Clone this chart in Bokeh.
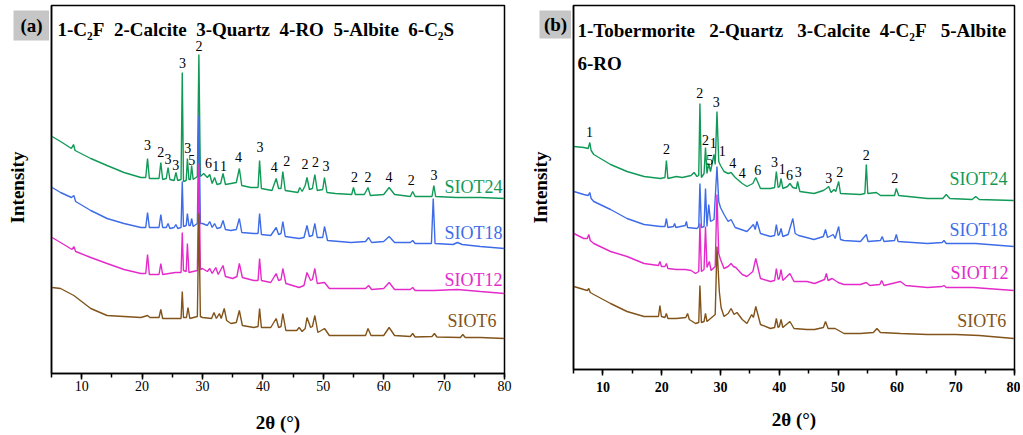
import math
from bokeh.plotting import figure
from bokeh.layouts import row
from bokeh.models import Range1d, SingleIntervalTicker, FixedTicker, Label, ColumnDataSource
from bokeh.core.properties import value
from bokeh.embed import file_html
from bokeh.resources import INLINE

# ---------------- data (2-theta, intensity a.u.) ----------------
SERIES_NAMES = ["SIOT24", "SIOT18", "SIOT12", "SIOT6"]
SERIES_COLORS = ["#119a57", "#3e6ce9", "#e42bca", "#82531a"]

A_SIOT24 = [(5.1,237),(6.5,232),(8.3,225),(8.65,229),(8.9,223),(11.5,215),(14.2,208),(17.0,201),(19.8,196),(20.6,196),(20.9,215),(21.2,195),(22.8,195),(23.1,211),(23.4,194),(24.0,195),(24.3,206),(24.6,194),(25.3,193),(25.6,201),(25.9,193),(26.45,194),(26.65,301),(26.85,192),(27.3,193),(27.5,215),(27.75,194),(28.0,194),(28.2,208),(28.45,194),(29.15,197),(29.4,319),(29.65,197),(30.2,200),(30.8,196),(31.2,199),(31.6,190),(32.0,196),(32.4,189),(33.0,190),(33.4,200),(33.8,189),(34.7,190),(35.6,191),(36.1,205),(36.5,188),(38.0,186),(39.2,186),(39.45,213),(39.75,185),(41.5,183),(42.2,195),(42.6,185),(43.0,185),(43.3,202),(43.7,183),(45.8,181),(46.1,186),(46.5,182),(47.0,188),(47.3,196),(47.7,184),(48.2,185),(48.6,199),(49.0,183),(49.9,184),(50.2,196),(50.6,181),(52.0,180),(54.7,179),(55.0,186),(55.3,179),(56.8,179),(57.4,186),(57.8,178),(60.0,179),(60.9,186),(61.8,179),(64.4,177),(64.8,182),(65.2,177),(68.0,177),(68.3,188),(68.6,177),(72.0,176),(76.0,176),(80.0,175)]
A_SIOT18 = [(5.1,186),(6.5,181),(8.3,176),(8.7,178),(9.0,172),(11.5,163),(14.2,155),(17.0,150),(19.8,146),(20.6,146),(20.9,161),(21.2,146),(22.8,146),(23.1,159),(23.4,146),(24.0,146),(24.3,150),(24.6,145),(25.3,146),(25.6,149),(25.9,145),(26.45,146),(26.65,192),(26.85,147),(27.3,148),(27.5,160),(27.75,148),(28.0,148),(28.2,155),(28.45,147),(29.15,150),(29.4,258),(29.65,150),(30.0,150),(30.8,148),(31.2,152),(31.6,146),(32.0,150),(32.4,145),(33.0,146),(33.4,153),(33.8,144),(34.7,143),(35.6,144),(36.1,155),(36.5,141),(38.5,140),(39.2,140),(39.45,160),(39.75,139),(41.3,138),(42.2,146),(42.6,139),(43.0,140),(43.3,152),(43.7,137),(46.0,135),(46.8,136),(47.3,148),(47.7,137),(48.2,138),(48.6,150),(49.0,136),(49.9,136),(50.2,147),(50.7,133),(54.6,131),(57.0,132),(57.5,136),(58.0,131),(60.0,132),(60.9,137),(61.8,131),(64.4,131),(64.8,133),(65.2,130),(67.9,130),(68.2,175),(68.5,130),(71.5,129),(72.2,131),(73.0,129),(76.0,127),(80.0,125)]
A_SIOT12 = [(5.1,136),(6.5,131),(8.4,124),(8.7,127),(9.0,122),(11.5,116),(14.2,110),(17.0,104),(19.8,100),(20.6,100),(20.9,119),(21.2,99),(22.8,99),(23.1,110),(23.4,99),(25.5,101),(26.45,101),(26.65,141),(26.85,103),(27.3,102),(27.5,130),(27.75,101),(29.15,103),(29.4,210),(29.65,104),(30.0,105),(30.8,102),(31.2,105),(31.6,100),(32.2,106),(32.6,99),(33.4,108),(33.8,97),(35.0,95),(35.7,97),(36.1,110),(36.6,96),(38.5,93),(39.2,93),(39.45,115),(39.75,93),(41.3,91),(42.2,100),(42.6,93),(43.0,94),(43.3,105),(43.8,90),(46.0,86),(46.8,88),(47.3,101),(47.9,93),(48.2,94),(48.6,105),(49.0,90),(50.2,91),(51.0,85),(54.6,85),(57.0,85),(57.5,88),(58.0,84),(60.0,85),(60.9,91),(61.8,84),(64.4,84),(64.8,86),(65.2,83),(68.3,83),(72.2,84),(76.0,82),(80.0,80)]
A_SIOT6 = [(5.1,86),(6.5,85),(8.7,78),(11.5,65),(14.2,58),(17.0,57),(19.8,56),(20.9,58),(21.3,56),(22.8,56),(23.1,64),(23.4,55),(25.5,55),(26.45,55),(26.65,82),(26.85,56),(27.35,56),(27.6,66),(27.9,55),(29.15,57),(29.4,160),(29.65,57),(30.0,56),(31.5,55),(31.9,61),(32.3,55),(32.8,60),(33.1,55),(33.6,65),(34.0,53),(34.7,50),(35.6,51),(36.1,63),(36.6,48),(38.5,46),(39.2,47),(39.45,65),(39.75,46),(41.3,46),(42.2,55),(42.6,46),(43.0,47),(43.3,60),(43.8,43),(45.6,43),(46.0,46),(46.5,42),(47.0,45),(47.3,56),(47.9,46),(48.2,47),(48.6,58),(49.1,41),(50.2,45),(51.0,38),(54.6,38),(57.0,38),(57.4,45),(57.9,38),(60.0,38),(60.9,46),(61.8,38),(64.4,37),(64.8,40),(65.2,36.5),(68.0,37),(68.4,40),(68.8,36.5),(72.7,36),(73.1,39),(73.5,36),(76.0,36),(80.0,35)]

B_SIOT24 = [(5.06,223),(6.75,222),(7.5,221),(7.77,227),(8.0,219),(8.45,215),(11.3,205),(14.1,198),(17.0,193),(19.8,191),(20.55,192),(20.8,209),(21.05,191),(22.5,193),(23.5,192),(25.0,194),(25.5,197),(26.0,193),(26.3,194),(26.5,266),(26.75,192),(27.2,196),(27.45,222),(27.7,196),(28.0,206),(28.3,198),(28.9,215),(29.1,205),(29.4,258),(29.7,208),(30.0,204),(30.6,198),(31.3,196),(31.8,197),(32.5,192),(33.7,186),(34.5,183),(35.5,186),(36.0,192),(36.8,181),(38.5,181),(39.2,182),(39.5,198),(39.8,182),(40.05,183),(40.3,191),(40.6,181),(41.4,183),(41.8,186),(42.3,182),(42.9,181),(43.1,188),(43.5,178),(45.9,176),(47.5,179),(48.0,181),(48.4,183),(48.8,177),(49.3,180),(49.6,178),(50.1,188),(50.4,176),(53.8,175),(54.55,176),(54.8,205),(55.05,176),(56.5,177),(57.2,174),(59.6,174),(59.9,181),(60.3,174),(65.2,171),(67.8,171),(68.4,175),(69.0,171),(72.8,170),(73.4,173),(74.0,170),(79.9,169)]
B_SIOT18 = [(5.06,178),(6.75,175),(7.5,174),(7.77,177),(8.0,171),(8.45,168),(11.3,160),(14.1,151),(17.0,145),(19.8,143),(20.55,143),(20.8,151),(21.05,142),(22.0,143),(22.2,146),(22.4,142),(24.0,144),(24.2,148),(24.4,142),(26.0,141),(26.3,143),(26.5,186),(26.75,142),(27.2,143),(27.45,181),(27.7,143),(28.0,165),(28.3,148),(28.9,150),(29.4,203),(29.7,168),(30.0,162),(30.6,155),(31.3,148),(31.8,150),(32.5,142),(34.5,138),(35.6,145),(35.9,140),(36.2,148),(36.8,136),(38.5,133),(39.2,134),(39.5,145),(39.8,134),(40.0,135),(40.3,141),(40.6,133),(41.5,135),(42.3,151),(42.7,136),(43.3,134),(45.9,130),(47.5,133),(47.86,140),(48.2,132),(49.17,135),(49.5,131),(50.1,143),(50.4,130),(51.0,129),(53.8,128),(54.8,135),(55.1,128),(57.2,129),(57.5,133),(57.8,128),(59.6,129),(59.9,135),(60.2,128),(65.2,126),(67.7,127),(68.0,129),(68.4,126),(73.4,126),(79.9,123)]
B_SIOT12 = [(5.06,136),(6.75,131),(7.35,131),(7.6,135),(7.85,129),(8.45,126),(11.3,118),(14.1,113),(17.0,106),(19.45,104),(19.7,108),(19.95,103),(20.55,103),(20.8,106),(21.05,101),(22.5,100),(24.0,100),(25.0,99),(25.75,96),(26.3,98),(26.5,146),(26.75,98),(27.2,100),(27.45,143),(27.7,102),(28.1,108),(28.4,99),(29.1,103),(29.4,175),(29.7,116),(30.0,110),(30.6,101),(31.3,103),(31.8,106),(32.2,103),(32.6,102),(33.7,95),(34.5,93),(35.5,98),(36.0,111),(36.8,91),(38.5,88),(39.2,89),(39.5,101),(39.8,90),(40.0,91),(40.3,100),(40.6,89),(41.8,96),(42.5,88),(44.7,88),(46.0,86),(47.7,90),(48.0,96),(48.3,89),(49.0,91),(50.0,87),(51.0,85),(53.8,85),(54.8,87),(55.4,84),(57.1,85),(57.4,89),(57.8,84),(60.6,88),(61.5,84),(65.2,82),(67.7,83),(68.0,84),(68.4,82),(73.0,82),(79.9,79)]
B_SIOT6 = [(5.06,83),(6.75,80),(7.35,79),(7.6,81),(7.85,77),(8.45,75),(11.3,66),(14.1,58),(17.0,53),(19.45,53),(19.7,64),(19.95,53),(20.55,52),(20.8,56),(21.05,51),(22.5,51),(24.1,52),(24.4,56),(24.7,50),(25.75,46),(26.3,47),(26.5,84),(26.75,47),(27.2,48),(27.45,56),(27.7,48),(28.5,52),(29.1,55),(29.4,123),(29.8,78),(30.1,62),(30.6,53),(31.3,56),(31.8,61),(32.3,55),(32.8,57),(33.7,50),(34.5,46),(35.3,55),(35.6,52),(36.0,63),(36.8,45),(38.5,41),(39.2,42),(39.5,51),(39.8,42),(40.0,43),(40.3,50),(40.6,42),(41.8,48),(42.5,41),(44.7,40),(46.0,40),(47.5,42),(47.86,48),(48.3,41),(49.5,41),(51.0,36),(53.8,36),(56.0,37),(56.6,41),(57.2,37),(60.6,36),(65.2,35),(70.0,35),(74.0,34),(79.9,31)]

# peak index labels
A_PEAK_TEXT = ["3","2","3","3","3","2","3","5","6","1","1","4","3","4","2","2","2","3","2","2","4","2","3"]
A_PEAK_X = [20.88,23.09,24.30,25.57,26.69,29.44,27.57,28.23,31.0,32.21,33.49,35.98,39.51,41.88,43.94,46.98,48.69,50.46,55.16,57.38,60.87,64.57,68.33]
A_PEAK_Y = [228.7,221.3,214.7,208.7,310.7,328,225.7,213.7,210.3,208,208,216.3,226.3,206.3,212.3,209.7,211.3,208,196.3,196.3,196.3,193.7,199]

B_PEAK_TEXT = ["1","2","2","3","2","1","5","1","4","4","6","3","1","6","3","3","2","2","2"]
B_PEAK_X = [7.72,20.82,26.48,29.27,27.45,28.76,28.18,30.29,32.09,33.69,36.34,39.18,40.49,41.73,43.21,48.42,50.29,54.78,59.64]
B_PEAK_Y = [238,220.7,276.3,268,229.7,227,209.7,218.7,206.3,196.3,199.7,208,200.7,194.7,198,191.3,197.3,214.7,192]

NB = "\u00a0"
A_TITLE = "1-C\u2082F" + NB*2 + "2-Calcite" + NB*2 + "3-Quartz" + NB*2 + "4-RO" + NB*2 + "5-Albite" + NB*2 + "6-C\u2082S"
B_TITLE_1 = "1-Tobermorite" + NB*3 + "2-Quartz" + NB*3 + "3-Calcite" + NB*2 + "4-C\u2082F" + NB*3 + "5-Albite"
B_TITLE_2 = "6-RO"
PANEL_TAGS = ["(a)", "(b)"]
X_LABEL = "2\u03b8 (\u00b0)"
Y_LABEL = "Intensity"
X_TICK_INTERVAL = 10

SERIF = "Liberation Serif"
TOTAL_H = 430


def make_panel(series, peak_text, peak_x, peak_y, name_pos, frame_w, frame_h,
               border_l, border_r, border_t, tick_bold, label_standoff, tick_standoff):
    p = figure(width=border_l + frame_w + border_r, height=TOTAL_H,
               frame_width=frame_w, frame_height=frame_h,
               min_border_left=border_l, min_border_right=border_r,
               min_border_top=border_t, min_border_bottom=TOTAL_H - border_t - frame_h,
               x_range=Range1d(5, 80), y_range=Range1d(0, frame_h),
               output_backend="svg", toolbar_location=None)
    p.background_fill_color = "white"
    p.border_fill_color = "white"
    p.xgrid.visible = False
    p.ygrid.visible = False
    p.outline_line_color = "black"
    p.outline_line_width = 1.5
    p.outline_line_alpha = 1.0

    xa = p.xaxis[0]
    xa.ticker = SingleIntervalTicker(interval=X_TICK_INTERVAL, num_minor_ticks=2)
    xa.axis_line_width = 1.5
    xa.major_tick_line_width = 1.5
    xa.minor_tick_line_width = 1.5
    xa.major_tick_out = 6
    xa.major_tick_in = 0
    xa.minor_tick_out = 4
    xa.minor_tick_in = 0
    xa.major_label_text_font = SERIF
    xa.major_label_text_font_size = "14px"
    xa.major_label_text_font_style = "bold" if tick_bold else "normal"
    xa.major_label_text_color = "black"
    xa.major_label_standoff = tick_standoff
    xa.axis_label = X_LABEL
    xa.axis_label_text_font = SERIF
    xa.axis_label_text_font_size = "19px"
    xa.axis_label_text_font_style = "bold"
    xa.axis_label_text_color = "black"
    xa.axis_label_standoff = label_standoff

    ya = p.yaxis[0]
    ya.ticker = FixedTicker(ticks=[])
    ya.axis_line_width = 1.5
    ya.major_tick_line_color = None
    ya.minor_tick_line_color = None
    ya.major_tick_out = 0
    ya.minor_tick_out = 0
    ya.major_label_standoff = 0
    ya.major_label_text_font_size = "0px"

    for (data, color) in zip(series, SERIES_COLORS):
        xs = [d[0] for d in data]
        ys = [d[1] for d in data]
        p.line(xs, ys, line_color=color, line_width=1.4)

    src = ColumnDataSource(dict(x=peak_x, y=peak_y, t=peak_text))
    p.text("x", "y", text="t", source=src, text_font=value(SERIF),
           text_font_size="14px", text_align="center", text_baseline="middle",
           text_color="black")

    nx, ny = name_pos
    nsrc = ColumnDataSource(dict(x=nx, y=ny, t=SERIES_NAMES, c=SERIES_COLORS))
    p.text("x", "y", text="t", source=nsrc, text_color="c", text_font=value(SERIF),
           text_font_size="18px", text_align="right", text_baseline="middle")
    return p


def make_side(width, tag, box, tag_pos, ylab_pos):
    # narrow strip left of a panel holding the panel tag and the y-axis title
    s = figure(width=width, height=TOTAL_H, frame_width=width, frame_height=TOTAL_H,
               min_border_left=0, min_border_right=0, min_border_top=0, min_border_bottom=0,
               x_range=Range1d(0, width), y_range=Range1d(TOTAL_H, 0),
               x_axis_type=None, y_axis_type=None,
               output_backend="svg", toolbar_location=None)
    s.outline_line_color = None
    s.background_fill_color = "white"
    s.border_fill_color = "white"
    s.xgrid.visible = False
    s.ygrid.visible = False
    l, r, t, b = box
    s.quad(left=[l], right=[r], top=[t], bottom=[b], fill_color="#c6c6c6", line_color=None)
    s.text(x=[tag_pos[0]], y=[tag_pos[1]], text=[tag], text_font=value(SERIF),
           text_font_size="19px", text_font_style="bold", text_align="center",
           text_baseline="middle", text_color="black")
    s.text(x=[ylab_pos[0]], y=[ylab_pos[1]], text=[Y_LABEL], text_font=value(SERIF),
           text_font_size="19px", text_font_style="bold", text_align="center",
           text_baseline="middle", text_color="black", angle=math.pi / 2)
    return s


side_a = make_side(49, PANEL_TAGS[0], (13, 49, 5, 35), (31, 20), (17, 182))
pa = make_panel([A_SIOT24, A_SIOT18, A_SIOT12, A_SIOT6], A_PEAK_TEXT, A_PEAK_X, A_PEAK_Y,
                ([79.66, 79.66, 79.66, 78.67], [187, 141, 94, 53]),
                frame_w=453, frame_h=368, border_l=2, border_r=14, border_t=5,
                tick_bold=False, label_standoff=18, tick_standoff=1)
side_b = make_side(53, PANEL_TAGS[1], (21, 53, 5, 33), (37, 19), (22, 182))
pb = make_panel([B_SIOT24, B_SIOT18, B_SIOT12, B_SIOT6], B_PEAK_TEXT, B_PEAK_X, B_PEAK_Y,
                ([78.8, 78.8, 79.0, 78.6], [190.5, 140, 96.3, 48.3]),
                frame_w=441, frame_h=364, border_l=2, border_r=6, border_t=4,
                tick_bold=True, label_standoff=14, tick_standoff=6)


def title(p, x, y, text):
    p.add_layout(Label(x=x, y=y, text=text, text_font=SERIF, text_font_size="19px",
                       text_font_style="bold", text_align="left",
                       text_baseline="alphabetic", text_color="black"))

title(pa, 6.0, 344, A_TITLE)
title(pb, 5.68, 339, B_TITLE_1)
title(pb, 5.68, 306, B_TITLE_2)

layout = row(side_a, pa, side_b, pb)
open("out.html", "w").write(file_html(layout, INLINE))
